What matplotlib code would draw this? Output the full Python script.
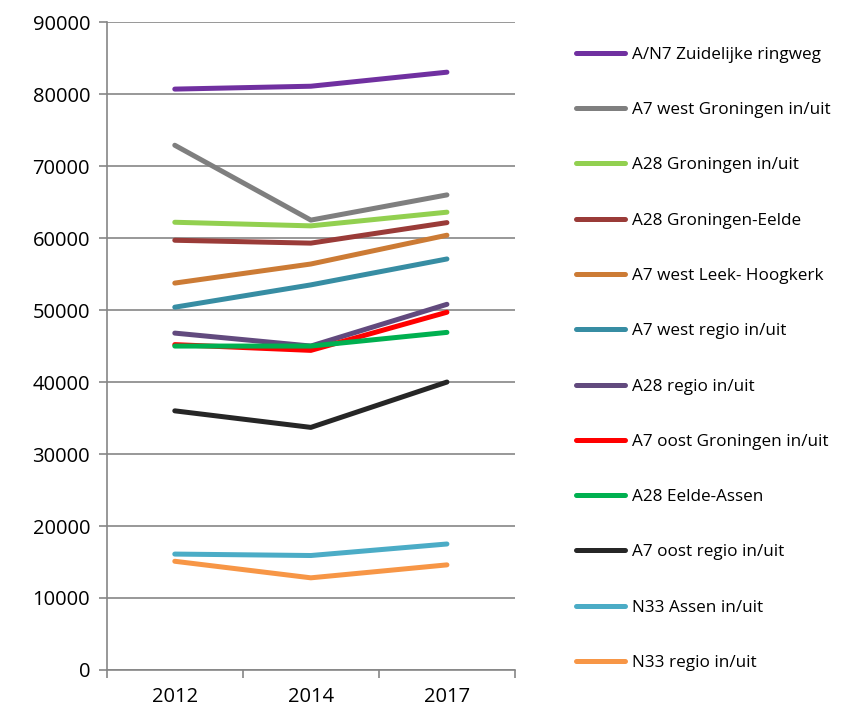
import matplotlib.pyplot as plt

# Data
years = ["2012", "2014", "2017"]
labels = ["A/N7 Zuidelijke ringweg", "A7 west Groningen in/uit", "A28 Groningen in/uit",
          "A28 Groningen-Eelde", "A7 west Leek- Hoogkerk", "A7 west regio in/uit",
          "A28 regio in/uit", "A7 oost Groningen in/uit", "A28 Eelde-Assen",
          "A7 oost regio in/uit", "N33 Assen in/uit", "N33 regio in/uit"]
an7_zuid = [80700, 81100, 83050]
a7_west_gron = [72900, 62500, 66000]
a28_gron = [62200, 61700, 63600]
a28_gron_eelde = [59700, 59300, 62150]
a7_west_leek = [53750, 56400, 60400]
a7_west_regio = [50400, 53500, 57100]
a28_regio = [46800, 45000, 50800]
a7_oost_gron = [45200, 44400, 49700]
a28_eelde_assen = [45000, 45000, 46900]
a7_oost_regio = [36000, 33700, 40000]
n33_assen = [16100, 15900, 17500]
n33_regio = [15100, 12800, 14600]

series = [an7_zuid, a7_west_gron, a28_gron, a28_gron_eelde, a7_west_leek, a7_west_regio,
          a28_regio, a7_oost_gron, a28_eelde_assen, a7_oost_regio, n33_assen, n33_regio]
colors = ["#7030A0", "#7F7F7F", "#92D050", "#9A3B38", "#CC7B35", "#378DA3",
          "#624A7E", "#FF0000", "#00B050", "#262626", "#4BACC6", "#F79646"]

plt.rcParams['font.family'] = ['Open Sans', 'DejaVu Sans']

fig = plt.figure(figsize=(8.54, 7.15), dpi=100)
ax = fig.add_axes([0.125, 0.063, 0.478, 0.906])

x = range(len(years))
for vals, lab, col in zip(series, labels, colors):
    ax.plot(x, vals, color=col, linewidth=3.6, label=lab, solid_capstyle='round')

ax.set_xlim(-0.5, 2.5)
ax.set_ylim(0, 90000)
ax.set_yticks(range(0, 90001, 10000))
ax.set_xticks(list(x))
ax.set_xticklabels(years)
ax.set_xticks([-0.5, 0.5, 1.5, 2.5], minor=True)
ax.tick_params(axis='x', which='major', length=0, labelsize=14.5, pad=12)
ax.tick_params(axis='x', which='minor', length=6, color='#868686', width=1.2)
ax.tick_params(axis='y', length=6, color='#868686', width=1.2, labelsize=14.5, pad=6)

ax.grid(axis='y', color='#868686', linewidth=1.2)
ax.set_axisbelow(True)
for s in ['top', 'right']:
    ax.spines[s].set_visible(False)
for s in ['left', 'bottom']:
    ax.spines[s].set_color('#868686')
    ax.spines[s].set_linewidth(1.2)

fig.legend(loc='upper left', bbox_to_anchor=(0.656, 0.956), frameon=False,
           fontsize=12.3, handlelength=2.9, handletextpad=0.4, labelspacing=2.3)

plt.savefig("out.png")
